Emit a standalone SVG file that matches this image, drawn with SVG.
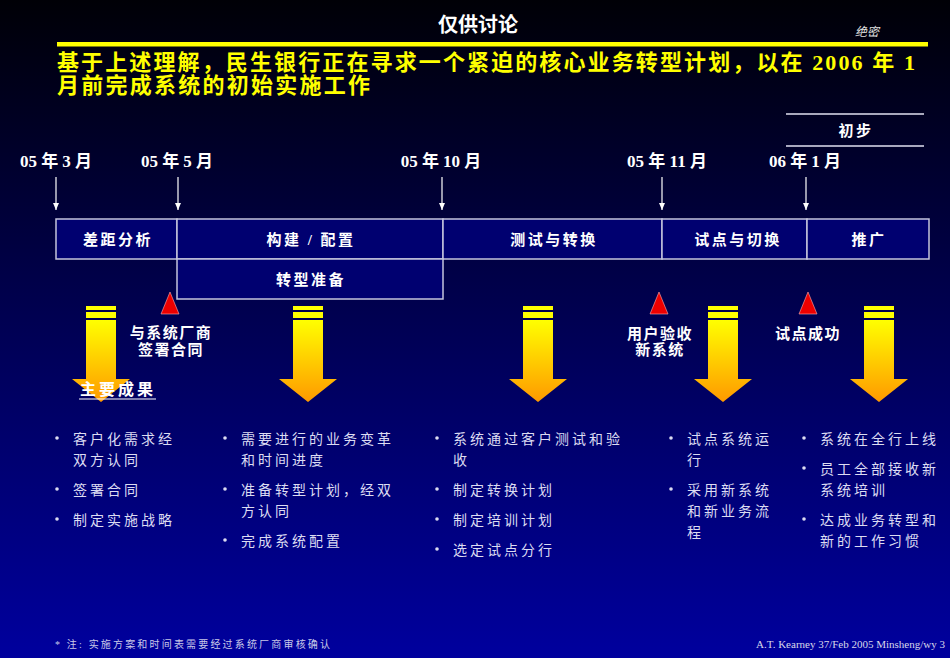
<svg xmlns="http://www.w3.org/2000/svg" width="950" height="658" viewBox="0 0 950 658">
<defs>
<linearGradient id="bg" x1="0" y1="0" x2="0" y2="1">
<stop offset="0" stop-color="#000006"/>
<stop offset="0.4" stop-color="#000045"/>
<stop offset="1" stop-color="#00009e"/>
</linearGradient>
<linearGradient id="ag" x1="0" y1="0" x2="0" y2="1">
<stop offset="0" stop-color="#ffff00"/>
<stop offset="1" stop-color="#ff9900"/>
</linearGradient>
<marker id="ah" markerWidth="7" markerHeight="6" refX="7" refY="3" orient="auto" markerUnits="userSpaceOnUse" viewBox="0 0 7 6">
<path d="M0,0 L7,3 L0,6 Z" fill="#ffffff"/>
</marker>
<g id="yarrow">
<rect x="-15" y="0" width="30" height="4" fill="#ffff00"/>
<rect x="-15" y="6" width="30" height="6" fill="#ffff00"/>
<path d="M-15,14 L15,14 L15,73 L29,73 L0,96 L-29,73 L-15,73 Z" fill="url(#ag)"/>
</g>
<path id="tri" d="M0,0 L9,22 L-9,22 Z"/>
</defs>
<style>
.cjk{font-family:"Liberation Serif","Noto Sans CJK SC",serif}
.title{font-size:20px;font-weight:bold;fill:#ffffff}
.head{font-size:22px;font-weight:bold;fill:#ffff00}
.date{font-size:17px;font-weight:bold;fill:#ffffff}
.box{fill:#000070;stroke:#c4c4dc;stroke-width:1.5}
.bt{font-size:15px;font-weight:bold;fill:#ffffff;letter-spacing:2.5px;text-anchor:middle}
.ms{font-size:15px;font-weight:bold;fill:#ffffff;letter-spacing:1.5px;text-anchor:middle}
.bl{font-size:14px;fill:#dcdcf2;letter-spacing:3px}
.dot{fill:#dcdcf2}
.conn{stroke:#ffffff;stroke-width:1.2;fill:none}
.red{fill:#ee0000;stroke:#ffb0b0;stroke-width:0.6}
</style>
<rect x="0" y="0" width="950" height="658" fill="url(#bg)"/>

<g id="header">
<text class="cjk title" x="478" y="32" text-anchor="middle">仅供讨论</text>
<text class="cjk" x="867" y="36" text-anchor="middle" font-size="12" font-style="italic" fill="#e0e0e0">绝密</text>
<rect x="57" y="42" width="871" height="4.5" fill="#ffff00"/>
<text class="cjk head" x="57" y="70" textLength="858" lengthAdjust="spacing">基于上述理解，民生银行正在寻求一个紧迫的核心业务转型计划，以在 2006 年 1</text>
<text class="cjk head" x="57" y="93" textLength="313" lengthAdjust="spacing">月前完成系统的初始实施工作</text>
</g>

<g id="prelim">
<line x1="786" y1="114" x2="924" y2="114" stroke="#e0e0f0" stroke-width="1.5"/>
<line x1="786" y1="146" x2="924" y2="146" stroke="#e0e0f0" stroke-width="1.5"/>
<text class="cjk bt" x="856" y="136">初步</text>
</g>

<g id="dates">
<text class="cjk date" x="56" y="167" text-anchor="middle">05 年 3 月</text>
<text class="cjk date" x="177" y="167" text-anchor="middle">05 年 5 月</text>
<text class="cjk date" x="441" y="167" text-anchor="middle">05 年 10 月</text>
<text class="cjk date" x="667" y="167" text-anchor="middle">05 年 11 月</text>
<text class="cjk date" x="805" y="167" text-anchor="middle">06 年 1 月</text>
</g>

<g id="connectors">
<line class="conn" x1="56" y1="177" x2="56" y2="210" marker-end="url(#ah)"/>
<line class="conn" x1="178" y1="177" x2="178" y2="210" marker-end="url(#ah)"/>
<line class="conn" x1="442" y1="177" x2="442" y2="210" marker-end="url(#ah)"/>
<line class="conn" x1="662" y1="177" x2="662" y2="210" marker-end="url(#ah)"/>
<line class="conn" x1="806" y1="177" x2="806" y2="210" marker-end="url(#ah)"/>
</g>

<g id="phase-gap">
<rect class="box" x="56" y="219" width="121" height="40"/>
<text class="cjk bt" x="118" y="245">差距分析</text>
</g>
<g id="phase-build">
<rect class="box" x="177" y="219" width="266" height="40"/>
<text class="cjk bt" x="311" y="245">构建 / 配置</text>
</g>
<g id="phase-test">
<rect class="box" x="443" y="219" width="219" height="40"/>
<text class="cjk bt" x="554" y="245">测试与转换</text>
</g>
<g id="phase-pilot">
<rect class="box" x="662" y="219" width="145" height="40"/>
<text class="cjk bt" x="738" y="245">试点与切换</text>
</g>
<g id="phase-rollout">
<rect class="box" x="807" y="219" width="122" height="40"/>
<text class="cjk bt" x="869" y="245">推广</text>
</g>
<g id="phase-transition">
<rect class="box" x="177" y="259" width="266" height="40"/>
<text class="cjk bt" x="311" y="285">转型准备</text>
</g>

<g id="milestone-contract">
<use href="#tri" x="170" y="292" class="red"/>
<text class="cjk ms" x="171" y="338">与系统厂商</text>
<text class="cjk ms" x="171" y="355">签署合同</text>
</g>
<g id="milestone-accept">
<use href="#tri" x="659" y="292" class="red"/>
<text class="cjk ms" x="660" y="339">用户验收</text>
<text class="cjk ms" x="660" y="355">新系统</text>
</g>
<g id="milestone-pilot">
<use href="#tri" x="808" y="292" class="red"/>
<text class="cjk ms" x="808" y="339">试点成功</text>
</g>

<g id="arrows">
<use href="#yarrow" x="101" y="306"/>
<use href="#yarrow" x="308" y="306"/>
<use href="#yarrow" x="538" y="306"/>
<use href="#yarrow" x="723" y="306"/>
<use href="#yarrow" x="879" y="306"/>
</g>

<g id="results-label">
<text class="cjk" x="80" y="395" font-size="16" font-weight="bold" fill="#ffffff" letter-spacing="3">主要成果</text>
<line x1="79" y1="399" x2="156" y2="399" stroke="#ffffff" stroke-width="1.2"/>
</g>

<g id="col1">
<circle class="dot" cx="57" cy="438" r="1.8"/>
<text class="cjk bl" x="73" y="444">客户化需求经</text>
<text class="cjk bl" x="73" y="465">双方认同</text>
<circle class="dot" cx="57" cy="489" r="1.8"/>
<text class="cjk bl" x="73" y="495">签署合同</text>
<circle class="dot" cx="57" cy="519" r="1.8"/>
<text class="cjk bl" x="73" y="525">制定实施战略</text>
</g>

<g id="col2">
<circle class="dot" cx="225" cy="438" r="1.8"/>
<text class="cjk bl" x="241" y="444">需要进行的业务变革</text>
<text class="cjk bl" x="241" y="465">和时间进度</text>
<circle class="dot" cx="225" cy="489" r="1.8"/>
<text class="cjk bl" x="241" y="495">准备转型计划，经双</text>
<text class="cjk bl" x="241" y="516">方认同</text>
<circle class="dot" cx="225" cy="540" r="1.8"/>
<text class="cjk bl" x="241" y="546">完成系统配置</text>
</g>

<g id="col3">
<circle class="dot" cx="437" cy="438" r="1.8"/>
<text class="cjk bl" x="453" y="444">系统通过客户测试和验</text>
<text class="cjk bl" x="453" y="465">收</text>
<circle class="dot" cx="437" cy="489" r="1.8"/>
<text class="cjk bl" x="453" y="495">制定转换计划</text>
<circle class="dot" cx="437" cy="519" r="1.8"/>
<text class="cjk bl" x="453" y="525">制定培训计划</text>
<circle class="dot" cx="437" cy="549" r="1.8"/>
<text class="cjk bl" x="453" y="555">选定试点分行</text>
</g>

<g id="col4">
<circle class="dot" cx="671" cy="438" r="1.8"/>
<text class="cjk bl" x="687" y="444">试点系统运</text>
<text class="cjk bl" x="687" y="465">行</text>
<circle class="dot" cx="671" cy="489" r="1.8"/>
<text class="cjk bl" x="687" y="495">采用新系统</text>
<text class="cjk bl" x="687" y="516">和新业务流</text>
<text class="cjk bl" x="687" y="537">程</text>
</g>

<g id="col5">
<circle class="dot" cx="804" cy="438" r="1.8"/>
<text class="cjk bl" x="820" y="444">系统在全行上线</text>
<circle class="dot" cx="804" cy="468" r="1.8"/>
<text class="cjk bl" x="820" y="474">员工全部接收新</text>
<text class="cjk bl" x="820" y="495">系统培训</text>
<circle class="dot" cx="804" cy="519" r="1.8"/>
<text class="cjk bl" x="820" y="525">达成业务转型和</text>
<text class="cjk bl" x="820" y="546">新的工作习惯</text>
</g>

<g id="footer">
<text class="cjk" x="55" y="648" font-size="10" fill="#c8c8e8" textLength="275" lengthAdjust="spacing">* 注: 实施方案和时间表需要经过系统厂商审核确认</text>
<text x="945" y="648" font-family="Liberation Serif, serif" font-size="11" fill="#d8d8ea" text-anchor="end">A.T. Kearney 37/Feb 2005 Minsheng/wy 3</text>
</g>
</svg>
